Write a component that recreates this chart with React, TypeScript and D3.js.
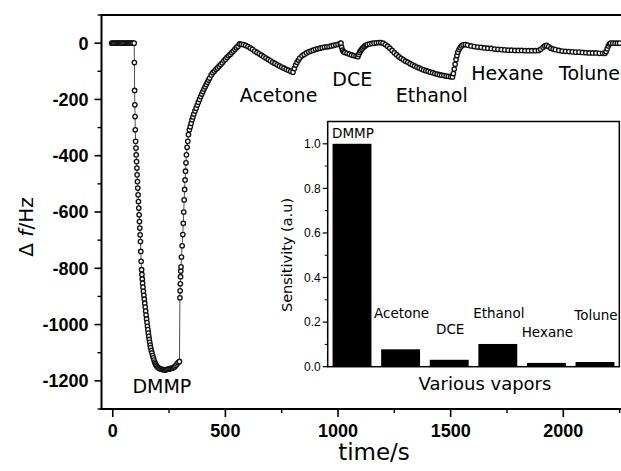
import React from "react";
import * as d3 from "d3";

// ---------- main response curve (time s, Δf Hz) ----------
const baselineSeg: [number, number][] = [
  [-5, 0], [0, 0], [5, 0], [10, 0], [15, 0], [20, 0], [25, 0], [30, 0], [35, 0], [40, 0],
  [45, 0], [50, 0], [55, 0], [60, 0], [65, 0], [70, 0], [75, 0], [80, 0], [85, 0], [90, 0], [95, 0],
];
const dmmpSeg: [number, number][] = [
  [96, -69], [97, -168], [98, -219], [99, -261], [100, -308], [101.5, -349], [103, -373], [104, -397],
  [105.5, -421], [107, -444], [108, -468], [109.5, -492], [111, -515], [112.5, -539], [114, -563],
  [115.5, -586], [117, -610], [118.5, -634], [120, -657], [121.5, -681], [123, -705], [124.5, -740],
  [126, -775], [128, -805], [129.5, -822], [131, -838], [132.5, -853], [134, -867], [136, -882],
  [138, -896], [140, -910], [142, -924], [144, -938], [146, -952], [148, -966], [150, -980],
  [152, -993], [154, -1006], [156, -1018], [158, -1030], [160, -1042], [162, -1053], [164, -1063],
  [166, -1073], [168, -1082], [171, -1092], [174, -1101], [177, -1110], [180, -1118], [183, -1126],
  [186, -1133], [189, -1139], [192, -1144], [195, -1148], [200, -1152], [205, -1155], [210, -1157],
  [215, -1158], [220, -1160], [225, -1160], [230, -1162], [235, -1160], [240, -1160], [245, -1158],
  [250, -1158], [255, -1157], [260, -1155], [265, -1155], [270, -1152], [275, -1150], [280, -1145],
  [285, -1140], [290, -1135], [296, -1131], [298, -905], [299, -880], [300, -855], [301, -830],
  [302, -810], [303, -795], [305, -760], [308, -720], [311, -680], [313, -640], [315, -600],
  [317, -557], [319, -520], [321, -486], [323, -455], [325, -425], [327, -397], [330, -370],
  [333, -349], [336, -325], [340, -308], [344, -297], [348, -285], [352, -272], [356, -262],
  [360, -252], [365, -241], [370, -231], [375, -220], [380, -210], [385, -200], [390, -190],
  [395, -181], [400, -172], [405, -163], [410, -155], [415, -147], [420, -139], [425, -131],
  [430, -124], [437, -113], [444, -105], [451, -99], [458, -93], [465, -88], [472, -82], [479, -76],
  [486, -70], [493, -63], [500, -57], [507, -51], [514, -45], [521, -40], [528, -34], [535, -28],
  [542, -22], [549, -16], [556, -11], [563, -3],
];
const acetoneSeg: [number, number][] = [
  [570, -4], [580, -5], [590, -8], [600, -12], [610, -17], [620, -22], [630, -28], [640, -33],
  [650, -38], [660, -43], [670, -48], [680, -53], [690, -58], [700, -63], [710, -68], [720, -72],
  [730, -77], [740, -81], [750, -85], [760, -89], [770, -93], [780, -96], [790, -100], [800, -103],
  [806, -90], [812, -78], [818, -68], [824, -60], [830, -53], [840, -45], [850, -40], [860, -35],
  [870, -31], [880, -28], [890, -25], [900, -22], [910, -20], [920, -18], [930, -16], [940, -14],
  [950, -13], [960, -12], [970, -10], [980, -8], [990, -6], [1000, -4], [1010, -1],
];
const dceSeg: [number, number][] = [
  [1013, 0], [1016, -15], [1020, -25], [1025, -31], [1030, -33], [1040, -36], [1050, -39],
  [1060, -42], [1070, -44], [1080, -46], [1088, -48], [1092, -40], [1096, -33], [1100, -27],
  [1105, -22], [1110, -17], [1115, -13], [1120, -10], [1125, -7], [1130, -5], [1140, -3],
  [1150, -1], [1160, 0], [1170, 1], [1180, 2], [1190, 2],
];
const ethanolSeg: [number, number][] = [
  [1200, 0], [1210, -5], [1220, -11], [1230, -18], [1240, -26], [1250, -34], [1260, -41],
  [1270, -48], [1280, -54], [1290, -59], [1300, -64], [1310, -68], [1320, -73], [1330, -77],
  [1340, -81], [1350, -85], [1360, -88], [1370, -92], [1380, -95], [1390, -98], [1400, -100],
  [1410, -103], [1420, -105], [1430, -108], [1440, -110], [1450, -112], [1460, -114], [1470, -115],
  [1480, -117], [1490, -118], [1500, -119], [1508, -120], [1512, -108], [1516, -92], [1520, -75],
  [1524, -58], [1528, -44], [1532, -32], [1537, -23], [1542, -16], [1548, -10], [1555, -6],
  [1565, -5],
];
const hexaneSeg: [number, number][] = [
  [1575, -7], [1590, -10], [1605, -12], [1620, -14], [1635, -15], [1650, -17], [1665, -18],
  [1680, -19], [1695, -21], [1710, -22], [1725, -23], [1740, -24], [1755, -25], [1770, -25],
  [1785, -26], [1800, -26], [1815, -26], [1830, -27], [1845, -27], [1860, -27], [1875, -27],
  [1890, -26], [1900, -22], [1910, -15], [1918, -10], [1926, -8],
];
const tolueneSeg: [number, number][] = [
  [1935, -12], [1945, -18], [1955, -21], [1965, -23], [1980, -26], [1995, -28], [2010, -29],
  [2025, -30], [2040, -31], [2055, -32], [2070, -32], [2085, -33], [2100, -34], [2115, -35],
  [2130, -35], [2145, -35], [2160, -36], [2175, -36], [2185, -36], [2190, -30], [2195, -20],
  [2200, -10], [2205, -3], [2210, 0], [2220, 0], [2230, 0], [2240, 0], [2250, 0],
];
const responseSegments = [baselineSeg, dmmpSeg, acetoneSeg, dceSeg, ethanolSeg, hexaneSeg, tolueneSeg];

const xDomain: [number, number] = [-50, 2250];
const yDomain: [number, number] = [-1300, 100];
const xTicksMajor = [0, 500, 1000, 1500, 2000];
const xTicksMinor = [250, 750, 1250, 1750, 2250];
const yTicksMajor = [0, -200, -400, -600, -800, -1000, -1200];
const yTicksMinor = [100, -100, -300, -500, -700, -900, -1100, -1300];

const annotationLabels = ["DMMP", "Acetone", "DCE", "Ethanol", "Hexane", "Tolune"];
const annotationT = [218, 736, 1063, 1416, 1752, 1981];
const annotationV = [-1243, -208, -152, -208, -131, -131];

// ---------- inset bar chart ----------
const vapors = ["DMMP", "Acetone", "DCE", "Ethanol", "Hexane", "Tolune"];
const sensitivity = [1.0, 0.078, 0.031, 0.102, 0.017, 0.021];
const labelLevels = [1.028, 0.219, 0.147, 0.219, 0.133, 0.21];
const insetDomain: [number, number] = [0, 1.1];
const insetTicksMajor = [0, 0.2, 0.4, 0.6, 0.8, 1.0];
const insetTicksMinor = [0.1, 0.3, 0.5, 0.7, 0.9];

const W = 621;
const H = 471;
const M = { left: 101.5, right: 619.6, top: 15, bottom: 409 };
const IN = { left: 327.7, right: 619.3, top: 121.5, bottom: 366.7 };

const tickFont = "'Liberation Sans', Arial, sans-serif";
const labelFont = "'DejaVu Sans', Verdana, sans-serif";

export default function App() {
  const x = d3.scaleLinear().domain(xDomain).range([M.left, M.right]);
  const y = d3.scaleLinear().domain(yDomain).range([M.bottom, M.top]);
  const allPts = responseSegments.flat();
  const line = d3
    .line<[number, number]>()
    .x((d) => x(d[0]))
    .y((d) => y(d[1]));

  const xb = d3.scaleBand<string>().domain(vapors).range([IN.left, IN.right]).paddingInner(0.2).paddingOuter(0.1);
  const yb = d3.scaleLinear().domain(insetDomain).range([IN.bottom, IN.top]);

  return (
    <svg width={W} height={H} style={{ position: "absolute", left: 0, top: 0, background: "#fff" }}>
      <rect x={0} y={0} width={W} height={H} fill="#fff" />
      {/* curve */}
      <path d={line(allPts) || ""} fill="none" stroke="#222" strokeWidth={0.8} />
      {allPts.map((d, i) => (
        <circle key={i} cx={x(d[0])} cy={y(d[1])} r={2.2} fill="#fff" stroke="#111" strokeWidth={1.35} />
      ))}

      {/* main axes */}
      <line x1={M.left} x2={W + 2} y1={M.top} y2={M.top} stroke="#000" strokeWidth={2} />
      <line x1={M.left} x2={M.left} y1={M.top - 1} y2={M.bottom + 1} stroke="#000" strokeWidth={2} />
      <line x1={M.left - 1} x2={W + 2} y1={M.bottom} y2={M.bottom} stroke="#000" strokeWidth={2} />
      {yTicksMajor.map((v) => (
        <g key={"ym" + v}>
          <line x1={M.left - 7} x2={M.left} y1={y(v)} y2={y(v)} stroke="#000" strokeWidth={1.6} />
          <text x={M.left - 13} y={y(v)} dy="0.36em" textAnchor="end" fontFamily={tickFont} fontSize={18} fontWeight="bold">
            {v}
          </text>
        </g>
      ))}
      {yTicksMinor.map((v) => (
        <line key={"yn" + v} x1={M.left - 4} x2={M.left} y1={y(v)} y2={y(v)} stroke="#000" strokeWidth={1.4} />
      ))}
      {xTicksMajor.map((t) => (
        <g key={"xm" + t}>
          <line x1={x(t)} x2={x(t)} y1={M.bottom} y2={M.bottom + 8} stroke="#000" strokeWidth={1.6} />
          <text x={x(t)} y={437} textAnchor="middle" fontFamily={tickFont} fontSize={18} fontWeight="bold">
            {t}
          </text>
        </g>
      ))}
      {xTicksMinor.map((t) => (
        <line key={"xn" + t} x1={x(t)} x2={x(t)} y1={M.bottom} y2={M.bottom + 4} stroke="#000" strokeWidth={1.4} />
      ))}
      <text x={374} y={460} textAnchor="middle" fontFamily={labelFont} fontSize={23}>
        time/s
      </text>
      <text transform="translate(33,227) rotate(-90)" textAnchor="middle" fontFamily={labelFont} fontSize={20}>
        <tspan>Δ </tspan>
        <tspan fontStyle="italic">f</tspan>
        <tspan>/Hz</tspan>
      </text>

      {/* annotations */}
      {annotationLabels.map((s, i) => (
        <text
          key={"an" + s}
          x={x(annotationT[i])}
          y={y(annotationV[i])}
          textAnchor={i === annotationLabels.length - 1 ? "start" : "middle"}
          fontFamily={labelFont}
          fontSize={19}
        >
          {s}
        </text>
      ))}

      {/* inset */}
      <rect x={IN.left} y={IN.top} width={IN.right - IN.left} height={IN.bottom - IN.top} fill="#fff" stroke="#000" strokeWidth={1.5} />
      {vapors.map((v, i) => (
        <rect key={"b" + v} x={xb(v)} y={yb(sensitivity[i])} width={xb.bandwidth()} height={yb(0) - yb(sensitivity[i])} fill="#000" />
      ))}
      {vapors.map((v, i) => (
        <text
          key={"bl" + v}
          x={(xb(v) || 0) + xb.bandwidth() / 2 + 1}
          y={yb(labelLevels[i])}
          textAnchor="middle"
          fontFamily={labelFont}
          fontSize={13.5}
        >
          {v}
        </text>
      ))}
      {insetTicksMajor.map((v) => (
        <g key={"im" + v}>
          <line x1={IN.left - 5} x2={IN.left} y1={yb(v)} y2={yb(v)} stroke="#000" strokeWidth={1.2} />
          <text x={IN.left - 7} y={yb(v)} dy="0.36em" textAnchor="end" fontFamily={tickFont} fontSize={12}>
            {v.toFixed(1)}
          </text>
        </g>
      ))}
      {insetTicksMinor.map((v) => (
        <line key={"in" + v} x1={IN.left - 3} x2={IN.left} y1={yb(v)} y2={yb(v)} stroke="#000" strokeWidth={1} />
      ))}
      <text x={485} y={390} textAnchor="middle" fontFamily={labelFont} fontSize={18}>
        Various vapors
      </text>
      <text transform="translate(292,255) rotate(-90)" textAnchor="middle" fontFamily={labelFont} fontSize={14.5}>
        Sensitivity (a.u)
      </text>
    </svg>
  );
}
